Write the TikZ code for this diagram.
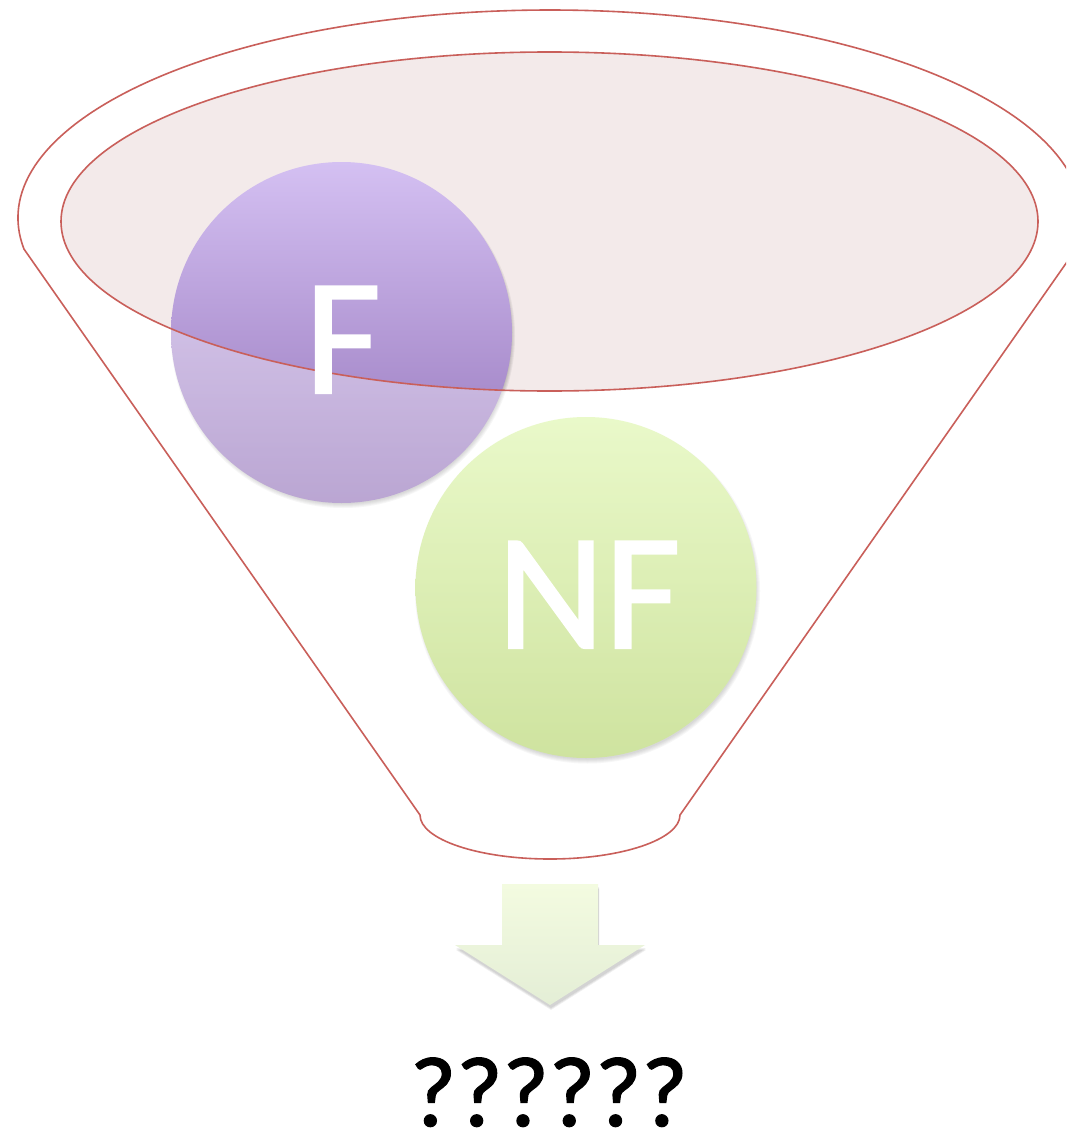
\documentclass[tikz,border=0pt]{standalone}
\usepackage{fontspec}
\setmainfont{Carlito}
\newfontfamily\heavyfont{Carlito}[FakeBold=1.3]
\definecolor{funnelred}{RGB}{201,95,90}
\definecolor{pinkfill}{RGB}{243,234,234}
\definecolor{purpleTop}{RGB}{212,192,242}
\definecolor{purpleBot}{RGB}{148,116,186}
\definecolor{greenTop}{RGB}{222,246,172}
\definecolor{greenBot}{RGB}{180,212,106}
\definecolor{arrowTop}{RGB}{243,251,224}
\definecolor{arrowBot}{RGB}{228,238,214}
\tikzset{
  ball/.style={circle, minimum size=341pt, inner sep=0pt},
  balltext/.style={text=white, inner sep=0pt, font=\heavyfont\fontsize{166}{166}\selectfont},
  funnelline/.style={draw=funnelred, line width=1.6pt},
  overlay/.style={fill=white, fill opacity=0.36, even odd rule},
  shadowfill/.style={fill=black, fill opacity=0.05}
}
\begin{document}
\begin{tikzpicture}[x=1pt,y=1pt]
\useasboundingbox (0,0) rectangle (1066,-1137);
\clip (0,0) rectangle (1066,-1137);
\fill[white] (0,0) rectangle (1066,-1137);
% inner mouth fill
\fill[pinkfill] (549.5,-221.5) ellipse [x radius=488.5, y radius=169.5];
% soft shadows of the balls
\foreach \d in {0,1,2,3,4} {
  \fill[shadowfill] (343,-336) circle [radius=168+\d];
  \fill[shadowfill] (587.5,-591) circle [radius=168.5+\d];
}
% balls
\node[ball, top color=purpleTop, bottom color=purpleBot] (F) at (341.5,-332.5) {};
\node[ball, top color=greenTop, bottom color=greenBot] (NF) at (586,-587.5) {};
% funnel body overlay
\path[overlay] (24,-249.1) arc [start angle=188.6, end angle=-8.6, x radius=532, y radius=208]
  -- (680,-815) arc [start angle=0, end angle=-180, x radius=130, y radius=44] -- cycle
  (549.5,-221.5) ellipse [x radius=488.5, y radius=169.5];
% funnel outlines
\draw[funnelline] (24,-249.1) arc [start angle=188.6, end angle=-8.6, x radius=532, y radius=208]
  -- (680,-815) arc [start angle=0, end angle=-180, x radius=130, y radius=44] -- cycle;
\draw[funnelline] (549.5,-221.5) ellipse [x radius=488.5, y radius=169.5];
% ball labels
\node[balltext, anchor=base] (Ft) at (343,-393) {F};
\node[balltext, anchor=base] (NFt) at (589,-648) {NF};
% arrow
\foreach \d in {1,2,3} {
  \fill[black, fill opacity=0.06, shift={(1,-2-\d)}] (502,-884) -- (598,-884) -- (598,-945) -- (645,-945)
    -- (550,-1005) -- (455,-945) -- (502,-945) -- cycle;
}
\shade[top color=arrowTop, bottom color=arrowBot] (502,-884) -- (598,-884) -- (598,-945) -- (645,-945)
    -- (550,-1005) -- (455,-945) -- (502,-945) -- cycle;
% result
\node[font=\heavyfont\fontsize{100}{100}\selectfont, anchor=base, inner sep=0pt] (q) at (549,-1126) {??????};
\end{tikzpicture}
\end{document}
